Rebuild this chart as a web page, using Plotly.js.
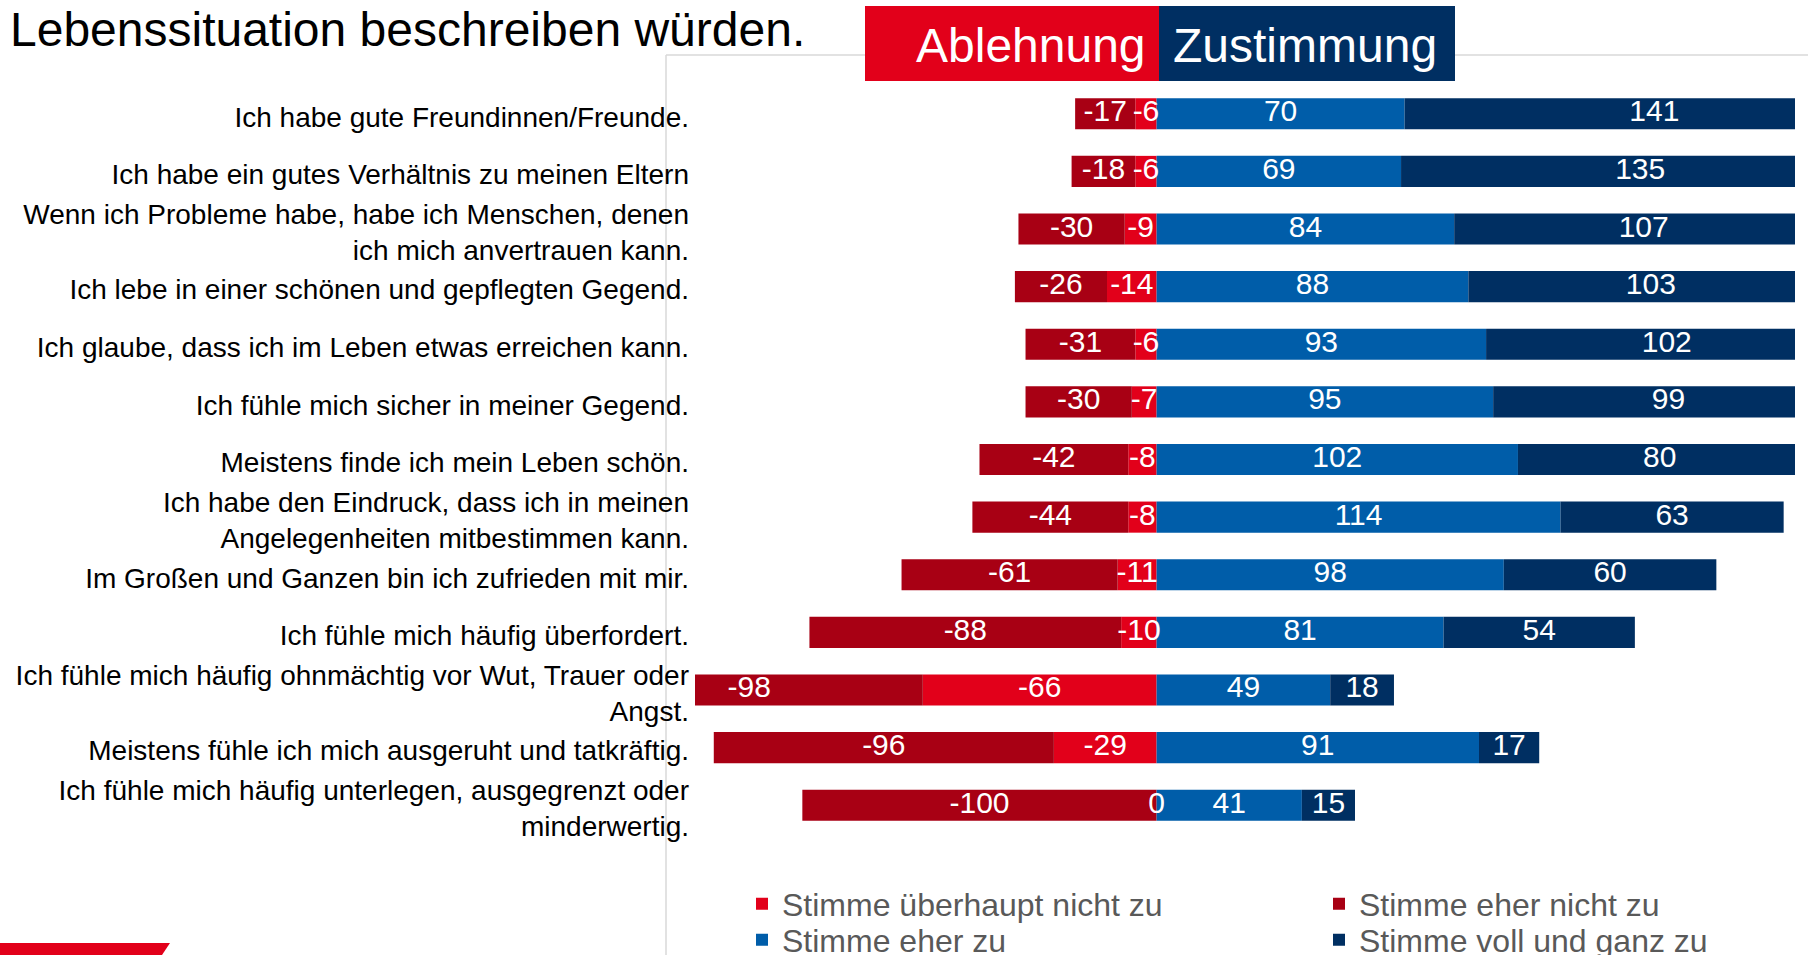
<!DOCTYPE html>
<html>
<head>
<meta charset="utf-8">
<script src="https://cdn.plot.ly/plotly-3.0.1.min.js"></script>
<style>html,body{margin:0;padding:0;background:#fff;overflow:hidden;}#chart{width:1808px;height:955px;}</style>
</head>
<body>
<div id="chart"></div>
<script>
// ---- data ----
const categories = [
  "Ich habe gute Freundinnen/Freunde.",
  "Ich habe ein gutes Verhältnis zu meinen Eltern",
  "Wenn ich Probleme habe, habe ich Menschen, denen<br>ich mich anvertrauen kann.",
  "Ich lebe in einer schönen und gepflegten Gegend.",
  "Ich glaube, dass ich im Leben etwas erreichen kann.",
  "Ich fühle mich sicher in meiner Gegend.",
  "Meistens finde ich mein Leben schön.",
  "Ich habe den Eindruck, dass ich in meinen<br>Angelegenheiten mitbestimmen kann.",
  "Im Großen und Ganzen bin ich zufrieden mit mir.",
  "Ich fühle mich häufig überfordert.",
  "Ich fühle mich häufig ohnmächtig vor Wut, Trauer oder<br>Angst.",
  "Meistens fühle ich mich ausgeruht und tatkräftig.",
  "Ich fühle mich häufig unterlegen, ausgegrenzt oder<br>minderwertig."
];
const seriesNames = ["Stimme überhaupt nicht zu", "Stimme eher nicht zu", "Stimme eher zu", "Stimme voll und ganz zu"];
const innerNeg = [-6, -6, -9, -14, -6, -7, -8, -8, -11, -10, -66, -29, 0];       // bright red
const outerNeg = [-17, -18, -30, -26, -31, -30, -42, -44, -61, -88, -98, -96, -100]; // dark red
const innerPos = [70, 69, 84, 88, 93, 95, 102, 114, 98, 81, 49, 91, 41];         // blue
const outerPos = [141, 135, 107, 103, 102, 99, 80, 63, 60, 54, 18, 17, 15];      // navy
const headerLabels = ["Ablehnung", "Zustimmung"];
const titleText = "Lebenssituation beschreiben würden.";

// ---- styles ----
const colors = ["#E2001A", "#A80014", "#005DA9", "#002F62"];
const FONT = "Liberation Sans, Arial, sans-serif";

// plot area in pixels
const L = 695, R = 1795, T = 85, B = 834;
const W = R - L, H = B - T;
const px2x = p => (p - L) / W;
const py2y = p => (B - p) / H;

const legendIds = ["legend", "legend2", "legend3", "legend4"];
const legendPos = [[742, 904], [1319, 904], [742, 940], [1319, 940]];

const traceVals = [innerNeg, outerNeg, innerPos, outerPos];
const traces = [];
traceVals.forEach((vals, i) => {
  traces.push({
    type: "bar", orientation: "h",
    x: vals, y: categories,
    name: seriesNames[i],
    marker: {color: colors[i], line: {width: 0}},
    legend: legendIds[i],
    hoverinfo: "x+name"
  });
});
// value labels at the center of each stacked segment
function centers(a, b) { return a.map((v, k) => ({c1: v / 2, c2: v + b[k] / 2})); }
const negC = centers(innerNeg, outerNeg), posC = centers(innerPos, outerPos);
const lblX = [], lblY = [], lblT = [];
categories.forEach((c, k) => {
  lblX.push(negC[k].c1, negC[k].c2, posC[k].c1, posC[k].c2);
  lblY.push(c, c, c, c);
  lblT.push(String(innerNeg[k]), String(outerNeg[k]), String(innerPos[k]), String(outerPos[k]));
});
traces.push({
  type: "scatter", mode: "text", x: lblX, y: lblY, text: lblT,
  textposition: "middle center",
  textfont: {family: FONT, size: 30, color: "#ffffff"},
  showlegend: false, hoverinfo: "skip", cliponaxis: false
});

const pathPx = pts => "M " + pts.map(p => px2x(p[0]) + "," + py2y(p[1])).join(" L ") + " Z";

const layout = {
  width: 1808, height: 955,
  margin: {l: L, r: 1808 - R, t: T, b: 955 - B, pad: 0, autoexpand: false},
  paper_bgcolor: "#ffffff", plot_bgcolor: "rgba(0,0,0,0)",
  font: {family: FONT, color: "#000000"},
  barmode: "relative", bargap: 0.46,
  xaxis: {range: [-130.3, 180.2], showgrid: false, zeroline: false, showticklabels: false, showline: false, ticks: "", fixedrange: true},
  yaxis: {type: "category", categoryorder: "array", categoryarray: categories, range: [12.5, -0.5],
          showgrid: false, zeroline: false, showline: false, ticks: "", ticklabelstandoff: 5, ticklabelshift: -3,
          tickfont: {family: FONT, size: 28, color: "#000000"}, fixedrange: true},
  showlegend: true,
  shapes: [
    {type: "line", xref: "paper", yref: "paper", x0: px2x(666), x1: px2x(1808), y0: py2y(55), y1: py2y(55), line: {color: "#D9D9D9", width: 1.5}, layer: "below"},
    {type: "line", xref: "paper", yref: "paper", x0: px2x(666), x1: px2x(666), y0: py2y(55), y1: py2y(955), line: {color: "#D9D9D9", width: 1.5}, layer: "below"},
    {type: "rect", xref: "paper", yref: "paper", x0: px2x(865), x1: px2x(1159), y0: py2y(6), y1: py2y(81), fillcolor: colors[0], line: {width: 0}, layer: "above"},
    {type: "rect", xref: "paper", yref: "paper", x0: px2x(1159), x1: px2x(1455), y0: py2y(6), y1: py2y(81), fillcolor: colors[3], line: {width: 0}, layer: "above"},
    {type: "path", xref: "paper", yref: "paper", path: pathPx([[0, 943], [170, 943], [162, 955], [0, 955]]), fillcolor: colors[0], line: {width: 0}, layer: "above"}
  ],
  annotations: [
    {xref: "paper", yref: "paper", x: px2x(8), y: py2y(29.5), xanchor: "left", yanchor: "middle", showarrow: false,
     text: titleText, font: {family: FONT, size: 48, color: "#000000"}},
    {xref: "paper", yref: "paper", x: px2x(1148), y: py2y(45), xanchor: "right", yanchor: "middle", showarrow: false,
     text: headerLabels[0], font: {family: FONT, size: 48, color: "#ffffff"}},
    {xref: "paper", yref: "paper", x: px2x(1171), y: py2y(45), xanchor: "left", yanchor: "middle", showarrow: false,
     text: headerLabels[1], font: {family: FONT, size: 48, color: "#ffffff"}}
  ]
};
legendIds.forEach((id, i) => {
  layout[id] = {orientation: "h", x: px2x(legendPos[i][0]), xanchor: "left", y: py2y(legendPos[i][1]), yanchor: "middle",
                font: {family: FONT, size: 32, color: "#595959"}, bgcolor: "rgba(0,0,0,0)",
                itemclick: false, itemdoubleclick: false};
});

Plotly.newPlot("chart", traces, layout, {displayModeBar: false});
</script>
</body>
</html>
